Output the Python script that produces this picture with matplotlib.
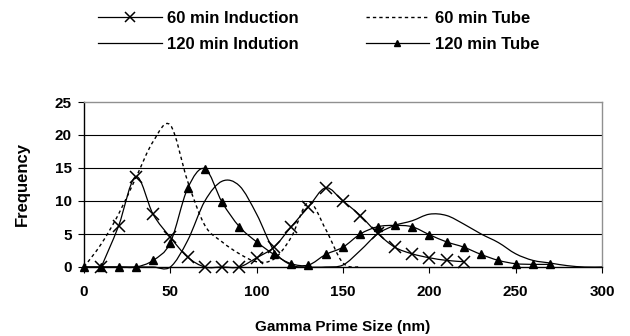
import numpy as np
import matplotlib
matplotlib.use("Agg")
import matplotlib.pyplot as plt
from matplotlib.path import Path
from matplotlib.patches import PathPatch
from matplotlib.lines import Line2D

plt.rcParams['font.family'] = ['Liberation Sans', 'DejaVu Sans']

# ---- data ----
x_60_ind = [10, 20, 30, 40, 50, 60, 70, 80, 90, 100, 110, 120, 130, 140, 150,
            160, 170, 180, 190, 200, 210, 220]
y_60_ind = [0, 6.2, 13.7, 8.0, 4.5, 1.5, 0, 0, 0, 1.4, 3.0, 6.1, 9.1, 12.0, 10.0,
            7.8, 5.1, 3.0, 2.0, 1.4, 1.0, 0.8]

x_60_tube = [0, 10, 20, 30, 40, 50, 60, 70, 80, 90, 100, 110, 120, 130, 140, 150, 160]
y_60_tube = [0, 3.5, 8, 13.5, 19, 21.5, 13, 6.3, 3.8, 2.0, 0.8, 1.2, 4.5, 9.8, 5.7, 0.6, 0]

x_120_ind = list(range(0, 301, 10))
y_120_ind = [0, 0, 0, 0, 0, 0, 4, 10, 13, 12.3, 8, 2.5, 0.3, 0, 0, 0.3, 2.5, 5, 6.3,
             7, 8, 7.8, 6.5, 5, 3.7, 2, 1, 0.6, 0.2, 0, 0]

x_120_tube = list(range(0, 271, 10))
y_120_tube = [0, 0, 0, 0, 1.0, 3.7, 11.9, 14.9, 9.8, 6.1, 3.8, 1.9, 0.5, 0.3, 1.9,
              3.0, 5.0, 6.1, 6.3, 6.1, 4.9, 3.8, 3.0, 1.9, 1.0, 0.5, 0.4, 0.4]

labels = ["60 min Induction", "60 min Tube", "120 min Indution", "120 min Tube"]
x_ticks = [0, 50, 100, 150, 200, 250, 300]
y_ticks = [0, 5, 10, 15, 20, 25]


def smooth_path(xs, ys):
    """Excel-like smoothed line: Catmull-Rom rendered as cubic Bezier segments."""
    p = np.column_stack([xs, ys]).astype(float)
    n = len(p)
    verts = [p[0]]
    codes = [Path.MOVETO]
    for i in range(n - 1):
        p0 = p[i - 1] if i > 0 else p[i]
        p1 = p[i]
        p2 = p[i + 1]
        p3 = p[i + 2] if i + 2 < n else p[i + 1]
        c1 = p1 + (p2 - p0) / 6.0
        c2 = p2 - (p3 - p1) / 6.0
        verts += [c1, c2, p2]
        codes += [Path.CURVE4] * 3
    return Path(verts, codes)


fig = plt.figure(figsize=(6.3, 3.36), dpi=100)
ax = fig.add_axes([84 / 630, 1 - 267 / 336, (602 - 84) / 630, (267 - 102) / 336])

lw = 0.9
dash = (0, (2.4, 2.2))
ax.add_patch(PathPatch(smooth_path(x_120_ind, y_120_ind), fill=False, ec='black', lw=lw,
                       clip_on=False, zorder=3))
ax.add_patch(PathPatch(smooth_path(x_60_tube, y_60_tube), fill=False, ec='black', lw=1.0,
                       linestyle=dash, clip_on=False, zorder=3))
ax.add_patch(PathPatch(smooth_path(x_120_tube, y_120_tube), fill=False, ec='black', lw=lw,
                       clip_on=False, zorder=3))
ax.add_patch(PathPatch(smooth_path(x_60_ind, y_60_ind), fill=False, ec='black', lw=lw,
                       clip_on=False, zorder=3))
ax.plot(x_120_tube, y_120_tube, ls='none', marker='^', ms=6, color='black', clip_on=False, zorder=4)
ax.plot(x_60_ind, y_60_ind, ls='none', marker='x', ms=8, mew=1.1, color='black', clip_on=False, zorder=4)

ax.set_xlim(0, 300)
ax.set_ylim(0, 25)
ax.set_xticks(x_ticks)
ax.set_yticks(y_ticks)
ax.set_xticklabels([str(t) for t in x_ticks], fontsize=11, fontweight='bold')
ax.set_yticklabels([str(t) for t in y_ticks], fontsize=11, fontweight='bold')
ax.tick_params(axis='both', direction='out', length=4, width=0.8, color='black')
ax.tick_params(axis='x', pad=9)
ax.tick_params(axis='y', pad=5)
for y in y_ticks[1:-1]:
    ax.axhline(y, color='black', lw=0.8, zorder=1)
ax.spines['left'].set_color('black')
ax.spines['bottom'].set_color('black')
ax.spines['right'].set_color('#909090')
ax.spines['top'].set_color('#909090')
for s in ax.spines.values():
    s.set_linewidth(1.0)

ax.set_xlabel("Gamma Prime Size (nm)", fontsize=11, fontweight='bold', labelpad=15)
ax.set_ylabel("Frequency", fontsize=12, fontweight='bold', labelpad=18)

handles = [
    Line2D([], [], color='black', lw=lw, marker='x', ms=7, mew=1.1),
    Line2D([], [], color='black', lw=lw),
    Line2D([], [], color='black', lw=1.0, linestyle=dash),
    Line2D([], [], color='black', lw=lw, marker='^', ms=5),
]
order_labels = [labels[0], labels[2], labels[1], labels[3]]
fig.legend(handles, order_labels, ncol=2, loc='center', bbox_to_anchor=(0.506, 0.907),
           frameon=False, handlelength=3.8, columnspacing=4.0, handletextpad=0.35,
           labelspacing=0.68, borderpad=0, prop={'size': 12, 'weight': 'bold'})

fig.savefig("out.png", dpi=100)
